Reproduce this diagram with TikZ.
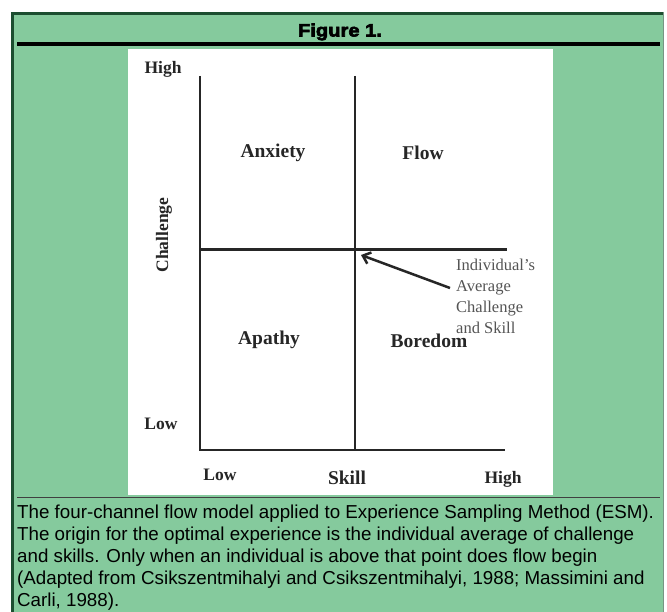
\documentclass[tikz,border=0pt]{standalone}
\usepackage{fontspec}
\setmainfont{Liberation Serif}
\newfontfamily\capfont{Liberation Sans}
\newfontfamily\titlefont[FakeBold=3.5,FakeStretch=1.12]{Liberation Sans Bold}
\usetikzlibrary{arrows.meta}
\definecolor{panelgreen}{RGB}{133,202,157}
\definecolor{borderdark}{RGB}{28,78,48}
\definecolor{notegray}{RGB}{85,85,85}
\begin{document}
\begin{tikzpicture}[x=1pt,y=-1pt,
  axisline/.style={line width=2.8pt, black!85},
  quad/.style={font=\fontsize{19.5}{21}\selectfont\bfseries, text=black!85, inner sep=0pt},
  ticklab/.style={font=\fontsize{17.5}{19}\selectfont\bfseries, text=black!85, inner sep=0pt},
  note/.style={font=\fontsize{16.5}{21}\selectfont, text=notegray, align=left, inner sep=0pt},
  captext/.style={font=\capfont\fontsize{18.75}{22.2}\selectfont, text=black, inner sep=0pt, anchor=base west}]
\useasboundingbox (0,0) rectangle (667,612);
\fill[white] (0,0) rectangle (667,612);
\fill[panelgreen] (11,12) rectangle (664,612);
\draw[borderdark, line width=3pt] (12.5,612) -- (12.5,13.5) -- (664,13.5);
\draw[borderdark!60, line width=1.2pt] (663.6,12) -- (663.6,612);
\node[font=\titlefont\fontsize{18}{20}\selectfont, inner sep=0pt, anchor=base] (title) at (340,36.5) {Figure 1.};
\draw[line width=4pt] (17,44.5) -- (660,44.5);
\fill[white] (128,49) rectangle (553,495);
\draw[black!75, line width=1pt] (17,497.5) -- (660,497.5);
% axes
\coordinate (lt) at (200,76);
\coordinate (lb) at (200,450);
\coordinate (mt) at (355,76);
\coordinate (mb) at (355,450);
\coordinate (ml) at (200,249.5);
\coordinate (mr) at (507,249.5);
\coordinate (br) at (505,450);
\draw[axisline] (lt) -- (lb) -- (br);
\draw[axisline] (mt) -- (mb);
\draw[axisline] (ml) -- (mr);
% labels
\node[ticklab] (hy) at (163,69) {High};
\node[ticklab] (ly) at (161,424) {Low};
\node[ticklab, rotate=90] (ch) at (164,235) {Challenge};
\node[ticklab] (lx) at (220,475) {Low};
\node[quad] (sk) at (347,478) {Skill};
\node[ticklab] (hx) at (503,479) {High};
\node[quad] (anx) at (273,153) {Anxiety};
\node[quad] (flw) at (423,153) {Flow};
\node[quad] (apa) at (269,340) {Apathy};
\node[quad] (bor) at (429,341) {Boredom};
\node[note, anchor=north west] (ind) at (456,258.5) {Individual's\\Average\\Challenge\\and Skill};
\coordinate (tail) at (450,288);
\coordinate (tip) at (361,255);
\draw[line width=2.5pt, black!85, -{Straight Barb[length=7pt,width=12pt]}] (tail) -- (tip);
% caption
\node[captext] (cap1) at (17,518) {The four-channel flow model applied to Experience Sampling Method (ESM).};
\node[captext] (cap2) at (17,540.2) {The origin for the optimal experience is the individual average of challenge};
\node[captext] (cap3) at (17,562.4) {and skills. Only when an individual is above that point does flow begin};
\node[captext] (cap4) at (17,584.6) {(Adapted from Csikszentmihalyi and Csikszentmihalyi, 1988; Massimini and};
\node[captext] (cap5) at (17,606.8) {Carli, 1988).};
\end{tikzpicture}
\end{document}
